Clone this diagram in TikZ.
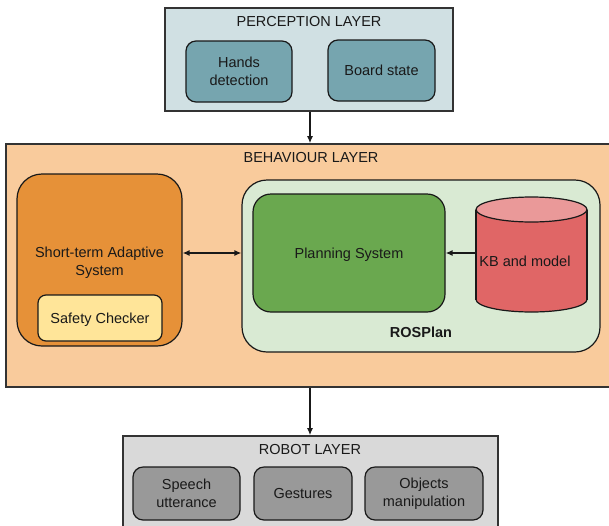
\documentclass[tikz,border=0pt]{standalone}
\usepackage{fontspec}
\setmainfont{Liberation Sans}
\usetikzlibrary{arrows.meta,calc}
\definecolor{percfill}{HTML}{D0E0E3}
\definecolor{percbox}{HTML}{76A5AF}
\definecolor{behfill}{HTML}{F9CB9C}
\definecolor{orangebox}{HTML}{E69138}
\definecolor{safetyfill}{HTML}{FFE599}
\definecolor{rosfill}{HTML}{D9EAD3}
\definecolor{planfill}{HTML}{6AA84F}
\definecolor{cylbody}{HTML}{E06666}
\definecolor{cyltop}{HTML}{EA9999}
\definecolor{robfill}{HTML}{D9D9D9}
\definecolor{robbox}{HTML}{999999}
\definecolor{edge}{HTML}{333333}
\tikzset{
  txt/.style={font=\fontsize{14.5}{18}\selectfont, text=black!90, align=center},
  oneline/.style={text height=10.4pt, text depth=0pt},
  layer/.style={rectangle, draw=edge, line width=1.6pt, inner sep=0pt},
  box/.style={rectangle, rounded corners=10pt, draw=black!90, line width=1.2pt, inner sep=0pt, txt},
  arr/.style={-{Latex[length=7pt,width=6pt]}, line width=1.3pt, draw=black!90},
  darr/.style={{Latex[length=7pt,width=6pt]}-{Latex[length=7pt,width=6pt]}, line width=1.3pt, draw=black!90},
}
\begin{document}
\begin{tikzpicture}[x=1pt,y=-1pt]
\useasboundingbox (0,0) rectangle (609,525);
\clip (0,0) rectangle (609,525);
\fill[white] (0,0) rectangle (609,525);

% Perception layer
\node[layer, fill=percfill, minimum width=288pt, minimum height=103pt] (perc) at (309,59.5) {};
\node[txt, oneline] (perct) at (309,21) {PERCEPTION LAYER};
\node[box, fill=percbox, minimum width=106pt, minimum height=61pt] (hands) at (239,71.5) {Hands\\detection};
\node[box, oneline, fill=percbox, minimum width=107pt, minimum height=61pt] (board) at (381.5,70.5) {Board state};

% Behaviour layer
\node[layer, fill=behfill, minimum width=610pt, minimum height=243pt] (beh) at (311,265.5) {};
\node[txt, oneline] (beht) at (311,157) {BEHAVIOUR LAYER};
\node[box, rounded corners=25pt, fill=orangebox, minimum width=165pt, minimum height=172pt] (sta) at (99.5,260) {};
\node[txt] (stat) at (99.5,262.5) {Short-term Adaptive\\System};
\node[box, oneline, rounded corners=8pt, fill=safetyfill, minimum width=124pt, minimum height=46pt] (safe) at (100,318) {Safety Checker};
\node[box, rounded corners=25pt, fill=rosfill, minimum width=358pt, minimum height=172pt] (ros) at (421,266) {};
\node[txt, oneline, font=\fontsize{14.5}{18}\selectfont\bfseries] (rost) at (421,332) {ROSPlan};
\node[box, oneline, rounded corners=18pt, fill=planfill, minimum width=192pt, minimum height=118pt] (plan) at (349,253) {Planning System};

% Cylinder (KB and model)
\node[rectangle, inner sep=0pt, minimum width=111pt, minimum height=115pt] (kb) at (531.5,254.5) {};
\filldraw[fill=cylbody, draw=black!90, line width=1.2pt] (531.5,299.5) ellipse [x radius=55.5, y radius=12.5];
\fill[cylbody] (476,209.5) rectangle (587,299.5);
\draw[black!90, line width=1.2pt] (476,209.5) -- (476,299.5) (587,209.5) -- (587,299.5);
\filldraw[fill=cyltop, draw=black!90, line width=1.2pt] (531.5,209.5) ellipse [x radius=55.5, y radius=12.5];
\node[txt, oneline] (kbt) at (525,261) {KB and model};

% Robot layer
\node[layer, fill=robfill, minimum width=375pt, minimum height=120pt] (rob) at (310.5,496) {};
\node[txt, oneline] (robt) at (310,449) {ROBOT LAYER};
\node[box, fill=robbox, minimum width=107pt, minimum height=53pt] (speech) at (186.5,493.5) {Speech\\utterance};
\node[box, oneline, fill=robbox, minimum width=98pt, minimum height=53pt] (gest) at (303,493.5) {Gestures};
\node[box, fill=robbox, minimum width=118pt, minimum height=53pt] (obj) at (424,493.5) {Objects\\manipulation};

% Connectors
\draw[arr] ($(perc.south)+(1,0)$) -- ($(perc.south |- beh.north)+(1,0)$);
\draw[arr] ($(beh.south -| rob.north)+(-0.5,0)$) -- ($(rob.north)+(-0.5,0)$);
\draw[darr] (sta.east |- plan.west) -- (ros.west |- plan.west);
\draw[arr] (kb.west |- plan.east) -- (plan.east);
\end{tikzpicture}
\end{document}
